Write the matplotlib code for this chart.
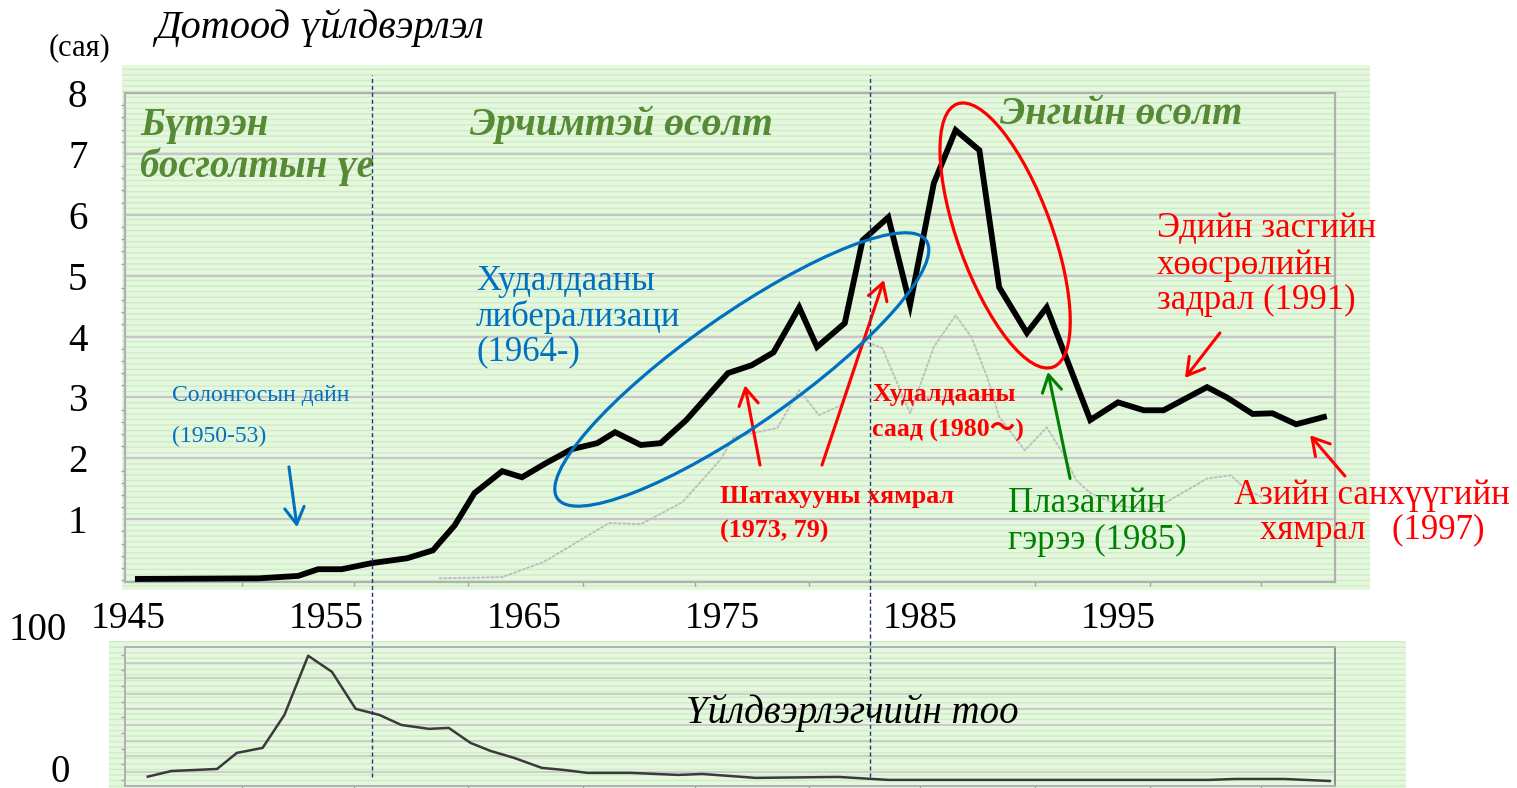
import matplotlib
matplotlib.use("Agg")
import matplotlib.pyplot as plt
from matplotlib.patches import Rectangle, Ellipse
from matplotlib.lines import Line2D
from matplotlib import transforms

plt.rcParams['font.family'] = ['Liberation Serif', 'Noto Sans CJK JP', 'DejaVu Serif']

# Дотоод үйлдвэрлэл (thick black line)
gdp_year = [1945.5, 1951.6, 1953.6, 1954.6, 1955.8, 1957.3, 1959.1, 1960.4, 1961.5, 1962.5,
            1963.9, 1964.9, 1966.1, 1967.4, 1968.7, 1969.6, 1970.9, 1971.9, 1973.2, 1975.3,
            1976.5, 1977.6, 1978.9, 1979.8, 1981.2, 1982.1, 1983.4, 1984.5, 1985.7, 1986.8,
            1988.0, 1989.0, 1990.4, 1991.4, 1993.6, 1995.0, 1996.3, 1997.3, 1999.5, 2000.5,
            2001.8, 2002.8, 2004.0, 2005.4]
gdp_val = [0.02, 0.03, 0.07, 0.18, 0.18, 0.28, 0.36, 0.49, 0.90, 1.43,
           1.79, 1.69, 1.92, 2.15, 2.25, 2.43, 2.22, 2.25, 2.63, 3.40,
           3.53, 3.74, 4.48, 3.83, 4.22, 5.58, 5.96, 4.52, 6.52, 7.39,
           7.06, 4.81, 4.06, 4.48, 2.63, 2.92, 2.79, 2.79, 3.17, 3.00,
           2.73, 2.74, 2.56, 2.68]

# thin grey line
sub_year = [1960.7, 1963.9, 1966.0, 1969.3, 1970.9, 1973.0, 1974.9, 1975.6, 1977.8, 1978.9,
            1979.9, 1981.0, 1982.1, 1983.1, 1984.5, 1985.7, 1986.8, 1987.6, 1988.4, 1989.0,
            1990.3, 1991.4, 1992.2, 1992.9, 1993.6, 1995.0, 1996.6, 1997.6, 1999.5, 2000.7,
            2001.5, 2002.3]
sub_val = [0.03, 0.05, 0.30, 0.94, 0.92, 1.28, 1.97, 2.35, 2.50, 3.12,
           2.71, 2.87, 3.94, 3.81, 2.74, 3.83, 4.35, 3.99, 3.33, 2.68,
           2.13, 2.51, 2.09, 1.64, 1.43, 1.23, 1.15, 1.31, 1.67, 1.72,
           1.48, 1.36]

# Үйлдвэрлэгчийн тоо
prod_year = [1946.0, 1947.2, 1949.5, 1950.5, 1951.8, 1952.9, 1954.1, 1955.3, 1956.5, 1957.7,
             1958.8, 1960.2, 1961.2, 1962.3, 1963.3, 1964.5, 1965.9, 1967.0, 1968.2, 1970.4,
             1972.8, 1974.0, 1976.7, 1980.9, 1983.4, 1999.6, 2000.9, 2003.4, 2005.7]
prod_val = [-3, 0.6, 1.9, 12.2, 15.4, 36.5, 74.4, 64.1, 40.4, 36.5,
            30.1, 27.6, 28.2, 18.6, 13.5, 9.0, 2.6, 1.3, -0.6, -0.6,
            -1.9, -1.3, -3.8, -3.2, -5.1, -5.1, -4.5, -4.5, -5.8]

x_labels = [1945, 1955, 1965, 1975, 1985, 1995]
y_labels = [1, 2, 3, 4, 5, 6, 7, 8]
minor_x = [1950.76, 1956.41, 1962.17, 1967.98, 1973.64, 1979.39, 1985.0, 1990.8, 1996.6, 2002.2]
era_bounds = [1957.3, 1982.5]

W, H = 1517, 788
fig = plt.figure(figsize=(W / 100, H / 100), dpi=100)

def put(x, y, s, **kw):
    kw.setdefault('va', 'center')
    return fig.text(x / W, 1 - y / H, s, **kw)

# green textured backgrounds
for (x0, y0, x1, y1) in [(122, 65, 1370, 590), (109, 641, 1406, 788)]:
    r = Rectangle((x0 / W, 1 - y1 / H), (x1 - x0) / W, (y1 - y0) / H, transform=fig.transFigure,
                  facecolor='#e6f7e0', edgecolor='#cdeec3', hatch='---', lw=0, zorder=-5)
    fig.add_artist(r)

grid_c = '#c6c6c6'
ax = fig.add_axes([125 / W, 1 - 582 / H, 1210 / W, 489 / H])
ax.set_facecolor('none')
ax.set_xlim(1944.85, 2005.96)
ax.set_ylim(-0.03, 8.0)
ax.set_yticks(y_labels)
ax.set_yticks([v / 5 for v in range(0, 41)], minor=True)
ax.set_xticks(x_labels)
ax.set_xticks(minor_x, minor=True)
ax.grid(axis='y', color=grid_c, lw=1.6)
ax.tick_params(axis='y', which='major', length=0, labelsize=28, pad=27)
ax.tick_params(axis='x', which='major', length=0, labelsize=27, pad=14)
ax.tick_params(which='minor', length=3, color='#a0a0a0', width=1)
for s in ax.spines.values():
    s.set_color('#b0b0b0')
    s.set_linewidth(1.6)

ax.plot(sub_year, sub_val, color='#bdbdbd', lw=1.3, ls=(0, (2, 0.6)), zorder=2)
ax.plot(gdp_year, gdp_val, color='black', lw=4.2, solid_joinstyle='miter', zorder=3)

ax2 = fig.add_axes([125 / W, 1 - 786 / H, 1210 / W, 139 / H])
ax2.set_facecolor('none')
ax2.set_xlim(1944.85, 2005.96)
ax2.set_ylim(-9, 80)
ax2.set_yticks(range(0, 80, 10))
ax2.set_yticks(range(-5, 80, 5), minor=True)
ax2.set_xticks(minor_x, minor=True)
ax2.set_xticks([])
ax2.grid(axis='y', color=grid_c, lw=1.2)
ax2.tick_params(axis='y', which='major', length=0, labelleft=False)
ax2.tick_params(which='minor', length=3, color='#a0a0a0', width=1)
for s in ax2.spines.values():
    s.set_color('#b0b0b0')
    s.set_linewidth(1.4)
ax2.spines['right'].set_color('#909090')
ax2.plot(prod_year, prod_val, color='#3a3a3a', lw=1.8)

# era boundaries, spanning both panels
bt = transforms.blended_transform_factory(ax.transData, fig.transFigure)
for xb in era_bounds:
    fig.add_artist(Line2D([xb, xb], [1 - 777 / H, 1 - 75 / H], transform=bt, color='#1f3a7a',
                          lw=1, ls=(0, (3, 2)), zorder=5))

# ellipses
def ring(xc, yc, w, h, ang, color):
    t = fig.dpi_scale_trans + transforms.ScaledTranslation(xc, yc, ax.transData)
    fig.add_artist(Ellipse((0, 0), w, h, angle=ang, transform=t, fill=False,
                           ec=color, lw=2.3, zorder=6))

ring(1976.0, 3.46, 4.5, 1.1, 35, '#0070c0')
ring(1989.3, 5.66, 2.8, 0.94, 110, '#ff0000')

# arrows
def arrow(tail, head, color):
    ax.annotate('', xy=head, xytext=tail, annotation_clip=False,
                arrowprops=dict(arrowstyle='->,head_length=0.6,head_width=0.35', color=color,
                                lw=2.2, mutation_scale=20, shrinkA=0, shrinkB=0), zorder=7)

arrow((1953.13, 1.86), (1953.54, 0.87), '#0070c0')
arrow((1976.92, 1.89), (1976.16, 3.20), '#ff0000')
arrow((1980.05, 1.89), (1983.18, 4.93), '#ff0000')
arrow((1992.58, 1.67), (1991.46, 3.42), '#008000')
arrow((2000.15, 4.06), (1998.38, 3.32), '#ff0000')
arrow((2006.46, 1.71), (2004.70, 2.38), '#ff0000')

# titles and labels
put(155, 28, 'Дотоод үйлдвэрлэл', fontsize=29, style='italic')
put(79, 48, '(сая)', fontsize=22, ha='center')
put(38, 630, '100', fontsize=28, ha='center')
put(60, 772, '0', fontsize=28, ha='center')

green = '#578a35'
put(140, 125, 'Бүтээн', fontsize=28, weight='bold', style='italic', color=green)
put(140, 167, 'босголтын үе', fontsize=28, weight='bold', style='italic', color=green)
put(470, 125, 'Эрчимтэй өсөлт', fontsize=28.5, weight='bold', style='italic', color=green)
put(1000, 115, 'Энгийн өсөлт', fontsize=28, weight='bold', style='italic', color=green)

blue = '#0070c0'
put(476, 282, 'Худалдааны', fontsize=25, color=blue)
put(476, 317, 'либерализаци', fontsize=25, color=blue)
put(476, 352, '(1964-)', fontsize=25, color=blue)
put(172, 395, 'Солонгосын дайн', fontsize=17, color=blue)
put(172, 436, '(1950-53)', fontsize=17, color=blue)

red = '#ff0000'
put(872, 395, 'Худалдааны', fontsize=18.5, weight='bold', color=red)
put(872, 430, 'саад (1980～)', fontsize=18.5, weight='bold', color=red)
put(720, 497, 'Шатахууны хямрал', fontsize=18.7, weight='bold', color=red)
put(720, 531, '(1973, 79)', fontsize=18.7, weight='bold', color=red)

put(1008, 503, 'Плазагийн', fontsize=25, color='#008000')
put(1008, 540, 'гэрээ (1985)', fontsize=25, color='#008000')

put(1157, 228, 'Эдийн засгийн', fontsize=25, color=red)
put(1157, 266, 'хөөсрөлийн', fontsize=25, color=red)
put(1157, 300, 'задрал (1991)', fontsize=25, color=red)
put(1372, 495, 'Азийн санхүүгийн', fontsize=25, color=red, ha='center')
put(1372, 530, 'хямрал   (1997)', fontsize=25, color=red, ha='center')

put(686, 713, 'Үйлдвэрлэгчийн тоо', fontsize=28, style='italic')

fig.savefig('out.png', dpi=100)
